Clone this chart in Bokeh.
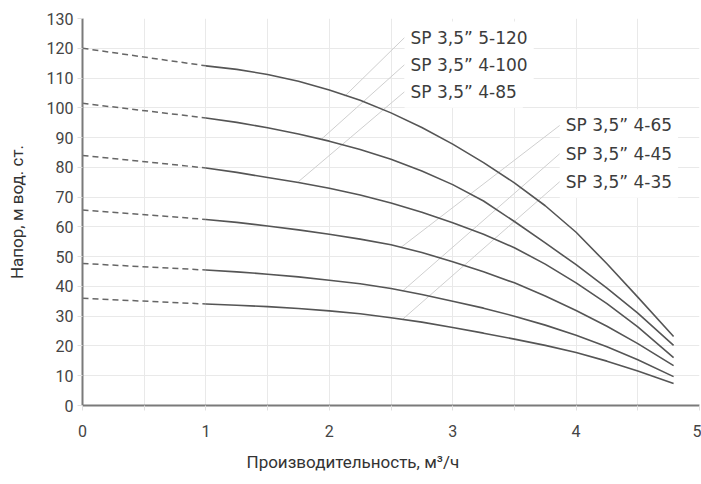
from bokeh.plotting import figure
from bokeh.models import Range1d, FixedTicker, Label, Title
from bokeh.embed import file_html
from bokeh.resources import INLINE

# ---- data ----
flow = [1.0, 1.25, 1.5, 1.75, 2.0, 2.25, 2.5, 2.75, 3.0, 3.25, 3.5, 3.75, 4.0, 4.25, 4.5, 4.79]
head_5_120 = [114.1, 112.9, 111.2, 108.9, 106.0, 102.5, 98.3, 93.4, 87.8, 81.6, 74.8, 67.1, 58.2, 47.6, 36.4, 23.2]
head_4_100 = [96.6, 95.1, 93.3, 91.2, 88.8, 86.0, 82.7, 78.8, 74.2, 68.7, 61.8, 54.6, 47.3, 39.4, 31.0, 20.2]
head_4_85 = [79.8, 78.3, 76.6, 74.9, 73.0, 70.7, 68.0, 64.9, 61.4, 57.5, 53.0, 47.5, 41.2, 34.2, 26.4, 16.1]
head_4_65 = [62.5, 61.5, 60.3, 59.0, 57.5, 55.9, 54.0, 51.4, 48.3, 44.9, 41.2, 36.8, 31.9, 26.6, 20.8, 13.4]
head_4_45 = [45.5, 44.9, 44.1, 43.2, 42.1, 40.9, 39.3, 37.3, 35.0, 32.7, 30.0, 27.0, 23.6, 19.7, 15.4, 9.7]
head_4_35 = [34.1, 33.7, 33.2, 32.6, 31.8, 30.8, 29.5, 28.0, 26.2, 24.3, 22.3, 20.2, 17.8, 14.9, 11.6, 7.4]
shutoff_head = [120.0, 101.5, 84.0, 65.7, 47.7, 36.0]   # head at zero flow (dashed part)
series_names = ["SP 3,5” 5-120", "SP 3,5” 4-100", "SP 3,5” 4-85",
                "SP 3,5” 4-65", "SP 3,5” 4-45", "SP 3,5” 4-35"]
# label anchors (data units) and leader-line targets on curves
label_x = [2.61, 2.61, 2.61, 3.868, 3.868, 3.868]
label_y = [123.6, 114.5, 105.4, 94.1, 84.6, 75.2]
leader_end_x = [2.125, 1.94, 1.75, 2.58, 2.595, 2.595]
leader_end_y = [103.9, 89.6, 75.2, 53.1, 38.5, 29.0]

x_ticks = [0, 1, 2, 3, 4, 5]
x_minor = [0.5, 1.5, 2.5, 3.5, 4.5]
y_ticks = list(range(0, 131, 10))
x_title = "Производительность, м³/ч"
y_title = "Напор, м вод. ст."

curves = [head_5_120, head_4_100, head_4_85, head_4_65, head_4_45, head_4_35]

p = figure(width=701, height=484, output_backend="svg", toolbar_location=None,
           x_range=Range1d(0, 5), y_range=Range1d(0, 130),
           min_border_left=82, min_border_right=2, min_border_top=18, min_border_bottom=79)
p.outline_line_color = None
p.background_fill_color = "white"

grid_col = "#e9e9e9"
p.xaxis.ticker = FixedTicker(ticks=x_ticks, minor_ticks=x_minor)
p.yaxis.ticker = FixedTicker(ticks=y_ticks)
p.xgrid.ticker = FixedTicker(ticks=x_ticks, minor_ticks=x_minor)
p.ygrid.ticker = FixedTicker(ticks=y_ticks)
p.xgrid.grid_line_color = grid_col
p.ygrid.grid_line_color = grid_col
p.xgrid.minor_grid_line_color = grid_col

for ax in (p.xaxis, p.yaxis):
    ax.axis_line_color = "#7a7a7a"
    ax.axis_line_width = 2
    ax.major_tick_line_color = "#e0e0e0"
    ax.major_tick_out = 5
    ax.major_tick_in = 0
    ax.minor_tick_line_color = "#e0e0e0"
    ax.minor_tick_out = 5
    ax.minor_tick_in = 0
    ax.major_label_text_color = "#444444"
    ax.major_label_text_font = "Roboto"
p.yaxis.minor_tick_line_color = None
p.yaxis.major_label_text_font_size = "16px"
p.yaxis.major_label_standoff = 4
p.xaxis.major_label_text_font_size = "16px"
p.xaxis.major_label_standoff = 14

p.yaxis.axis_label = y_title
p.yaxis.axis_label_text_font = "Roboto"
p.yaxis.axis_label_text_font_size = "17px"
p.yaxis.axis_label_text_font_style = "normal"
p.yaxis.axis_label_text_color = "#333333"
p.yaxis.axis_label_standoff = 17

p.add_layout(Title(text=x_title, align="left", offset=164, text_font="Roboto",
                   text_font_size="17px", text_font_style="normal",
                   text_color="#333333", standoff=21), "below")

# leader lines
for x0, y0, x1, y1 in zip(label_x, label_y, leader_end_x, leader_end_y):
    p.line([x0, x1], [y0, y1], line_color="#cfcfcf", line_width=1)

# curves
for head0, head in zip(shutoff_head, curves):
    p.line([0.0, flow[0]], [head0, head[0]], line_color="#666666", line_width=1.5, line_dash="6 4")
    p.line(flow, head, line_color="#555555", line_width=1.6)

# series labels
for name, lx, ly in zip(series_names, label_x, label_y):
    p.add_layout(Label(x=lx, y=ly, text=name, text_font="DejaVu Sans", text_font_size="17px",
                       text_color="#3c3c3c", text_baseline="middle", text_align="left",
                       background_fill_color="white", padding=6))

open("out.html", "w").write(file_html(p, INLINE))
